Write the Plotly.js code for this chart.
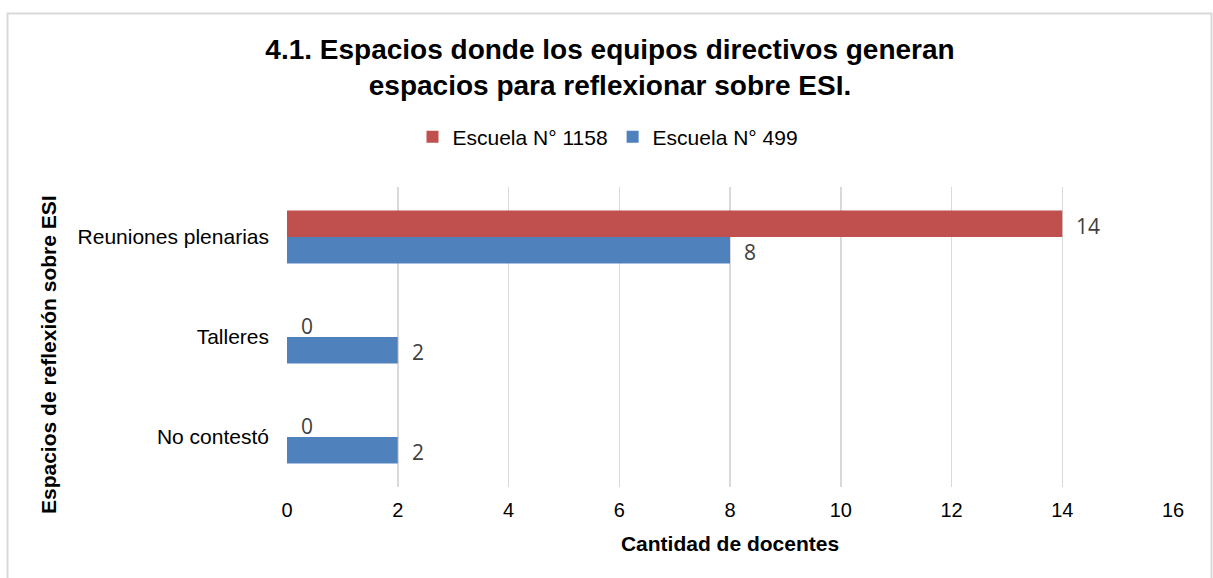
<!DOCTYPE html>
<html>
<head>
<meta charset="utf-8">
<script src="https://cdn.plot.ly/plotly-3.0.1.min.js"></script>
<style>
  html, body { margin: 0; padding: 0; background: #fff; }
  #chart { width: 1213px; height: 578px; }
</style>
</head>
<body>
<div id="chart"></div>
<script>
// ---- data ----
const categories = ["Reuniones plenarias", "Talleres", "No contestó"];
const seriesNames = ["Escuela N° 1158", "Escuela N° 499"];
const values1158 = [14, 0, 0];
const values499 = [8, 2, 2];
const xTicks = [0, 2, 4, 6, 8, 10, 12, 14, 16];

const titleText = "4.1. Espacios donde los equipos directivos generan<br>espacios para reflexionar sobre ESI.";
const xTitle = "Cantidad de docentes";
const yTitle = "Espacios de reflexión sobre ESI";

const colors = ["#C0504D", "#4F81BD"];
const W = 1213, H = 578;
const M = { l: 287, r: 40, t: 187, b: 91 };
const pw = W - M.l - M.r, ph = H - M.t - M.b;

const traces = [
  { type: "bar", orientation: "h", name: seriesNames[0], y: categories, x: values1158,
    marker: { color: colors[0] }, hoverinfo: "x+name" },
  { type: "bar", orientation: "h", name: seriesNames[1], y: categories, x: values499,
    marker: { color: colors[1] }, hoverinfo: "x+name" }
];

function px2paperX(px) { return (px - M.l) / pw; }
function px2paperY(py) { return (H - M.b - py) / ph; }

// data labels
const labelFont = { family: "Open Sans, Noto Sans, sans-serif", size: 21, color: "#404040" };
const annotations = [];
const seriesVals = [values1158, values499];
const yShifts = [11, -15];
seriesVals.forEach((vals, s) => {
  vals.forEach((v, i) => {
    annotations.push({
      x: v, y: categories[i], xref: "x", yref: "y",
      text: String(v), showarrow: false,
      xanchor: "left", yanchor: "middle",
      xshift: 12, yshift: yShifts[s],
      font: labelFont
    });
  });
});

// y-axis title (placed as rotated annotation to match position)
annotations.push({
  text: yTitle, xref: "paper", yref: "paper",
  x: px2paperX(48), y: px2paperY(355),
  xanchor: "center", yanchor: "middle",
  textangle: -90, showarrow: false,
  font: { family: "Liberation Sans, Arial, sans-serif", size: 21, color: "#000", weight: "bold" }
});

const layout = {
  width: W, height: H,
  margin: M,
  paper_bgcolor: "#fff", plot_bgcolor: "#fff",
  font: { family: "Liberation Sans, Arial, sans-serif", color: "#000" },
  title: {
    text: titleText,
    font: { family: "Liberation Sans, Arial, sans-serif", size: 28, color: "#000", weight: "bold" },
    xref: "container", x: 610 / W, xanchor: "center",
    yref: "container", y: 1 - 59 / H, yanchor: "top"
  },
  barmode: "group",
  bargap: 0.47,
  bargroupgap: 0,
  showlegend: true,
  legend: {
    orientation: "h",
    xref: "container", x: 608 / W, xanchor: "center",
    yref: "container", y: 1 - 137 / H, yanchor: "middle",
    font: { family: "Liberation Sans, Arial, sans-serif", size: 21, color: "#000" },
    itemwidth: 30,
    traceorder: "normal"
  },
  xaxis: {
    range: [0, 16],
    tickvals: xTicks,
    ticktext: xTicks.map(String),
    showgrid: true, gridcolor: "#d9d9d9", gridwidth: 1.5,
    zeroline: false, showline: false,
    ticks: "", ticklabelstandoff: 9,
    tickfont: { family: "Liberation Sans, Arial, sans-serif", size: 20, color: "#000" },
    title: { text: xTitle, standoff: 16,
      font: { family: "Liberation Sans, Arial, sans-serif", size: 21, color: "#000", weight: "bold" } },
    automargin: false,
    fixedrange: true
  },
  yaxis: {
    type: "category",
    autorange: "reversed",
    showgrid: false, zeroline: false, showline: false,
    ticks: "", ticklabelstandoff: 17,
    tickfont: { family: "Liberation Sans, Arial, sans-serif", size: 21, color: "#000" },
    automargin: false,
    fixedrange: true
  },
  annotations: annotations,
  shapes: [{
    type: "rect", xref: "paper", yref: "paper",
    x0: px2paperX(7.5), x1: px2paperX(1211.5),
    y0: px2paperY(600), y1: px2paperY(13.5),
    line: { color: "#d9d9d9", width: 2 }, fillcolor: "rgba(0,0,0,0)", layer: "below"
  }]
};

Plotly.newPlot("chart", traces, layout, { displayModeBar: false, staticPlot: true });
</script>
</body>
</html>
